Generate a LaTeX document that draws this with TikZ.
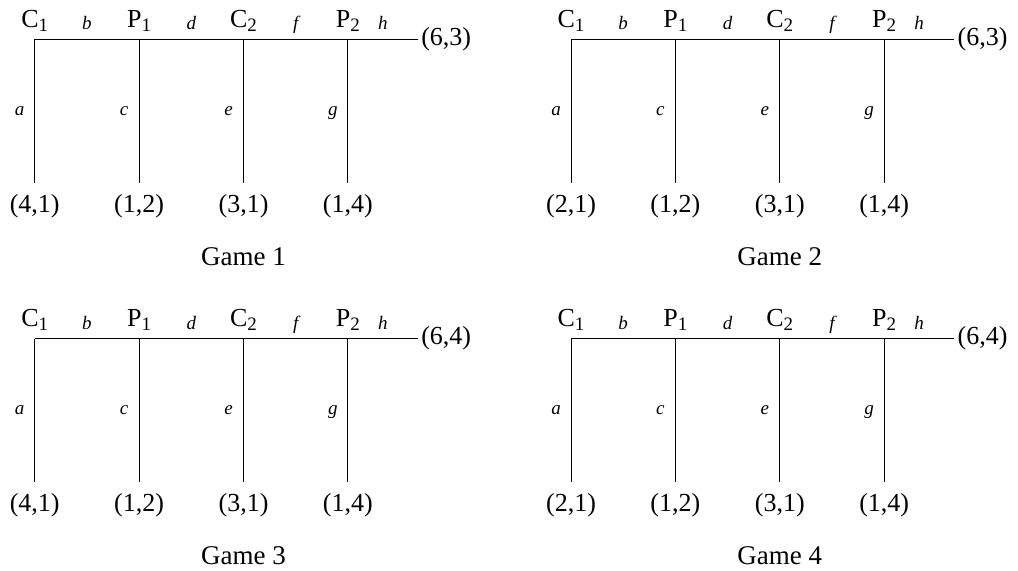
\documentclass[tikz,border=0pt]{standalone}
\usepackage{fontspec}
\setmainfont{Liberation Serif}
\usetikzlibrary{positioning}

\newcommand{\sub}[1]{\raisebox{-0.3ex}{\fontsize{9.5}{10}\selectfont #1}}

\begin{document}
\begin{tikzpicture}[
    x=0.5pt, y=-0.5pt,
    node distance=52.2pt,
    every node/.style={font=\fontsize{13}{15}\selectfont, inner sep=0pt},
    player/.style={anchor=base},
    move/.style={anchor=base, font=\fontsize{9.5}{11}\selectfont\itshape},
    payoff/.style={inner sep=5.5pt},
    edge/.style={line width=0.5pt}
]
\useasboundingbox (0,0) rectangle (1018,571);

% Four centipede games, one per quarter
\foreach \g/\ox/\oy/\pa/\pe in {1/0/0/{(4,1)}/{(6,3)}, 2/536.3/0/{(2,1)}/{(6,3)},
                                3/0/299.4/{(4,1)}/{(6,4)}, 4/536.3/299.4/{(2,1)}/{(6,4)}} {
\begin{scope}[shift={(\ox,\oy)}]
% Decision points
\coordinate (C1-\g) at (34.7,39.3);
\coordinate[right=of C1-\g] (P1-\g);
\coordinate[right=of P1-\g] (C2-\g);
\coordinate[right=of C2-\g] (P2-\g);
\coordinate[right=35pt of P2-\g] (end-\g);

% Players
\node[player] (c1lab-\g) at ([yshift=5.9pt]C1-\g) {C\sub{1}};
\node[player] (p1lab-\g) at ([yshift=5.9pt]P1-\g) {P\sub{1}};
\node[player] (c2lab-\g) at ([yshift=5.9pt]C2-\g) {C\sub{2}};
\node[player] (p2lab-\g) at ([yshift=5.9pt]P2-\g) {P\sub{2}};

% Moves
\node[move] (b-\g) at ([xshift=26.1pt, yshift=4.7pt]C1-\g) {b};
\node[move] (d-\g) at ([xshift=26.1pt, yshift=4.7pt]P1-\g) {d};
\node[move] (f-\g) at ([xshift=26.1pt, yshift=4.7pt]C2-\g) {f};
\node[move] (h-\g) at ([xshift=17.5pt, yshift=4.7pt]P2-\g) {h};
\node[move] (a-\g) at ([xshift=-7.5pt, yshift=-37.9pt]C1-\g) {a};
\node[move] (c-\g) at ([xshift=-7.5pt, yshift=-37.9pt]P1-\g) {c};
\node[move] (e-\g) at ([xshift=-7.5pt, yshift=-37.9pt]C2-\g) {e};
\node[move] (g-\g) at ([xshift=-7.5pt, yshift=-37.9pt]P2-\g) {g};

% Payoffs
\node[payoff, below=71.7pt of C1-\g] (l1-\g) {\pa};
\node[payoff, below=71.7pt of P1-\g] (l2-\g) {(1,2)};
\node[payoff, below=71.7pt of C2-\g] (l3-\g) {(3,1)};
\node[payoff, below=71.7pt of P2-\g] (l4-\g) {(1,4)};
\node[right=1.5pt of end-\g] (l5-\g) {\pe};

% Tree
\draw[edge] (C1-\g) -- (end-\g);
\draw[edge] (C1-\g) -- (l1-\g);
\draw[edge] (P1-\g) -- (l2-\g);
\draw[edge] (C2-\g) -- (l3-\g);
\draw[edge] (P2-\g) -- (l4-\g);

\node[player, font=\fontsize{13.5}{15}\selectfont] (title-\g) at ([yshift=-112.9pt]C2-\g) {Game \g};
\end{scope}
}
\end{tikzpicture}
\end{document}
